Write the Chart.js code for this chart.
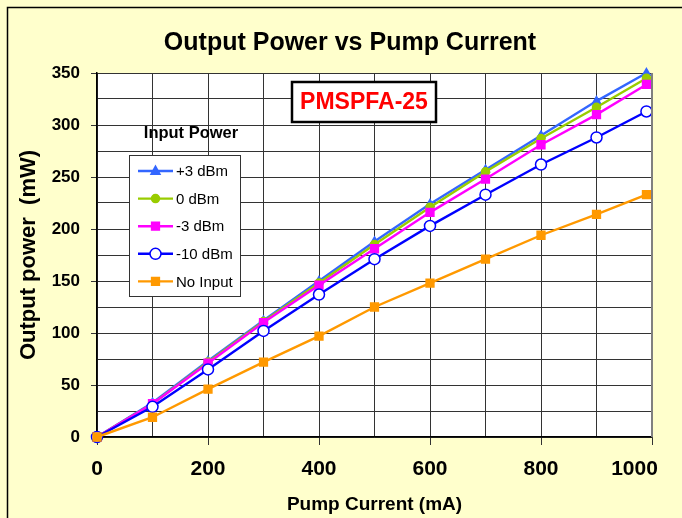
<!DOCTYPE html>
<html>
<head>
<meta charset="utf-8">
<title>Output Power vs Pump Current</title>
<script src="https://cdn.jsdelivr.net/npm/chart.js@4"></script>
<style>
  html, body { margin: 0; padding: 0; background: #FFFFCC; }
  canvas { display: block; }
</style>
</head>
<body>
<canvas id="chart" width="682" height="518"></canvas>
<script>
// ---- data ----
const pumpCurrent = [0, 100, 200, 300, 400, 500, 600, 700, 800, 900, 990];
const plus3dBm   = [0, 33, 73, 112, 150, 188, 224, 257, 290, 323, 350];
const zero_dBm   = [0, 32, 72, 111, 148, 185, 221, 255, 287, 317, 345];
const minus3dBm  = [0, 32, 71, 110, 146, 181, 216, 248, 281, 310, 339];
const minus10dBm = [0, 29, 65, 102, 137, 171, 203, 233, 262, 288, 313];
const noInput    = [0, 19, 46, 72, 97, 125, 148, 171, 194, 214, 233];

const seriesNames = ["+3 dBm", "0 dBm", "-3 dBm", "-10 dBm", "No Input"];
const chartTitle = "Output Power vs Pump Current";
const modelLabel = "PMSPFA-25";
const legendTitle = "Input Power";

const FONT = "'Liberation Sans', Arial, sans-serif";

function toPoints(values) {
  return values.map((v, i) => ({ x: pumpCurrent[i], y: v }));
}

function makeSet(label, values, color, style, fill, radius) {
  return {
    label: label,
    data: toPoints(values),
    borderColor: color,
    backgroundColor: fill,
    pointStyle: style,
    pointRadius: radius,
    pointBorderColor: color,
    pointBackgroundColor: fill,
    pointBorderWidth: 1.5,
    borderWidth: 2.4,
    tension: 0,
    clip: false
  };
}

const datasets = [
  makeSet(seriesNames[4], noInput, "#FF9900", "rect", "#FF9900", 5.5),
  makeSet(seriesNames[3], minus10dBm, "#0000FF", "circle", "#FFFFFF", 5.5),
  makeSet(seriesNames[2], minus3dBm, "#FF00FF", "rect", "#FF00FF", 5.5),
  makeSet(seriesNames[1], zero_dBm, "#99CC00", "circle", "#99CC00", 4),
  makeSet(seriesNames[0], plus3dBm, "#3366FF", "triangle", "#3366FF", 4.5)
];

// legend marker, same look as the chart points
function drawMarker(ctx, style, r, x, y) {
  ctx.beginPath();
  if (style === "rect") {
    const s = r * Math.SQRT1_2;
    ctx.rect(x - s, y - s, 2 * s, 2 * s);
  } else if (style === "triangle") {
    ctx.moveTo(x, y - r * 1.1);
    ctx.lineTo(x + r, y + r * 0.7);
    ctx.lineTo(x - r, y + r * 0.7);
    ctx.closePath();
  } else {
    ctx.arc(x, y, r, 0, Math.PI * 2);
  }
  ctx.fill();
  ctx.stroke();
}

// ---- background, frame, title, model box, legend ----
const decorPlugin = {
  id: "decor",
  beforeDraw(chart) {
    const ctx = chart.ctx;
    const a = chart.chartArea;
    ctx.save();
    ctx.fillStyle = "#FFFFCC";
    ctx.fillRect(0, 0, chart.width, chart.height);
    ctx.strokeStyle = "#000";
    ctx.lineWidth = 1.5;
    ctx.beginPath();
    ctx.moveTo(7.5, chart.height);
    ctx.lineTo(7.5, 7.5);
    ctx.lineTo(chart.width, 7.5);
    ctx.stroke();
    ctx.fillStyle = "#FFFFFF";
    ctx.fillRect(a.left, a.top, a.right - a.left, a.bottom - a.top);
    ctx.restore();
  },
  afterDatasetsDraw(chart) {
    const ctx = chart.ctx;
    const a = chart.chartArea;
    ctx.save();
    // right border of plot
    ctx.strokeStyle = "#808080";
    ctx.lineWidth = 2;
    ctx.beginPath();
    ctx.moveTo(a.right, a.top);
    ctx.lineTo(a.right, a.bottom);
    ctx.stroke();

    // title
    ctx.fillStyle = "#000";
    ctx.font = "bold 25px " + FONT;
    ctx.textAlign = "center";
    ctx.textBaseline = "middle";
    ctx.fillText(chartTitle, 350, 43);

    // model box
    ctx.fillStyle = "#FFFFFF";
    ctx.fillRect(292, 82, 144, 40);
    ctx.strokeStyle = "#000";
    ctx.lineWidth = 2.5;
    ctx.strokeRect(292, 82, 144, 40);
    ctx.fillStyle = "#FF0000";
    ctx.font = "bold 23px " + FONT;
    ctx.fillText(modelLabel, 364, 103);

    // legend title
    ctx.fillStyle = "#000";
    ctx.font = "bold 16.5px " + FONT;
    ctx.fillText(legendTitle, 191, 133);

    // legend box
    ctx.fillStyle = "#FFFFFF";
    ctx.fillRect(129, 155, 111, 141);
    ctx.strokeStyle = "#333";
    ctx.lineWidth = 1;
    ctx.strokeRect(129.5, 155.5, 111, 141);

    const order = [4, 3, 2, 1, 0];
    ctx.font = "15px " + FONT;
    ctx.textAlign = "left";
    order.forEach((di, row) => {
      const ds = chart.data.datasets[di];
      const y = 171 + row * 27.6;
      ctx.strokeStyle = ds.borderColor;
      ctx.lineWidth = 2.4;
      ctx.beginPath();
      ctx.moveTo(138, y);
      ctx.lineTo(173, y);
      ctx.stroke();
      ctx.fillStyle = ds.pointBackgroundColor;
      ctx.strokeStyle = ds.pointBorderColor;
      ctx.lineWidth = ds.pointBorderWidth;
      drawMarker(ctx, ds.pointStyle, ds.pointRadius, 155.5, y);
      ctx.fillStyle = "#000";
      ctx.fillText(ds.label, 176, y + 1);
    });
    ctx.restore();
  }
};

new Chart(document.getElementById("chart"), {
  type: "line",
  data: { datasets: datasets },
  plugins: [decorPlugin],
  options: {
    responsive: false,
    animation: false,
    layout: { padding: { left: 0, top: 73, right: 30, bottom: 0 } },
    plugins: {
      legend: { display: false },
      title: { display: false },
      tooltip: { enabled: false }
    },
    scales: {
      x: {
        type: "linear",
        min: 0,
        max: 1000,
        afterFit(scale) {
          scale.height = 81;
          // keep the plot edge fixed, labels may hang over
          scale.paddingLeft = 0;
          scale.paddingRight = 0;
        },
        ticks: {
          stepSize: 100,
          autoSkip: false,
          maxRotation: 0,
          padding: 12,
          color: "#000",
          font: { family: FONT, size: 21, weight: "bold" },
          // Excel pulls the last label inward; trailing spaces do the same here
          callback: v => (v === 1000 ? "1000      " : (v % 200 === 0 ? v : ""))
        },
        grid: {
          color: "#333",
          lineWidth: 1,
          tickLength: 8,
          tickColor: c => (c.tick && c.tick.value % 200 === 0 ? "#333" : "rgba(0,0,0,0)")
        },
        border: { color: "#000", width: 1.5 },
        title: {
          display: true,
          text: "Pump Current (mA)",
          color: "#000",
          font: { family: FONT, size: 19, weight: "bold" },
          padding: { top: 0, bottom: 2 }
        }
      },
      y: {
        min: 0,
        max: 350,
        afterFit(scale) { scale.width = 97; },
        ticks: {
          stepSize: 25,
          autoSkip: false,
          padding: 11,
          color: "#000",
          font: { family: FONT, size: 17, weight: "bold" },
          callback: v => (v % 50 === 0 ? v : "")
        },
        grid: {
          color: "#333",
          lineWidth: 1,
          tickLength: 6,
          tickColor: c => (c.tick && c.tick.value % 50 === 0 ? "#333" : "rgba(0,0,0,0)")
        },
        border: { color: "#000", width: 1.5 },
        title: {
          display: true,
          text: "Output power  (mW)",
          color: "#000",
          font: { family: FONT, size: 22, weight: "bold" },
          padding: { top: 16, bottom: 0 }
        }
      }
    }
  }
});
</script>
</body>
</html>
